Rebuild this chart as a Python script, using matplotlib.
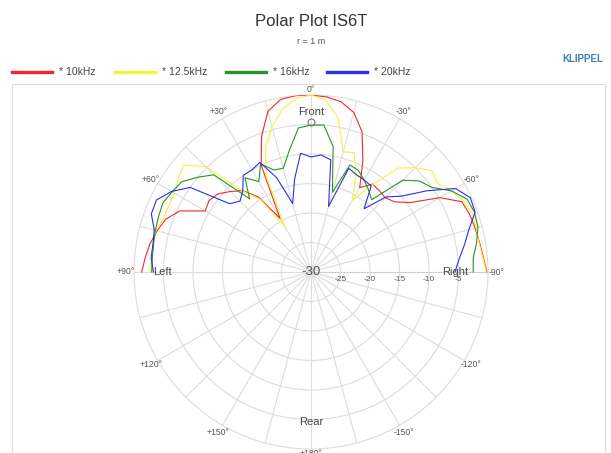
import numpy as np
import matplotlib.pyplot as plt
from matplotlib.lines import Line2D
from matplotlib.patches import Rectangle
import matplotlib.transforms as mtransforms

plt.rcParams['font.family'] = ['Liberation Sans', 'DejaVu Sans']

# =============================================================================
# DATA (dB relative, angle in degrees, + = left)
# =============================================================================

angles = list(range(-90, 95, 5))

spl_10k = [-0.2, -0.7, -1.0, -1.2, -1.4, -1.8, -4.8, -9.5, -11.5, -12.2, -12.0, -11.8, -13.5,
           -9.2, -4.7, -2.0, -0.7, -0.2, 0.0, 0.0, -0.3, -1.8, -5.5, -10.0, -19.5, -14.5,
           -12.0, -10.7, -9.4, -8.9, -9.3, -5.5, -3.8, -3.0, -2.3, -1.8, -1.3]
spl_12k5 = [-0.3, -0.8, -1.1, -1.0, -0.9, -1.5, -2.5, -3.8, -3.3, -5.0, -7.0, -12.0, -16.0,
            -12.0, -8.5, -8.9, -3.5, -0.8, 0.0, -0.5, -2.0, -4.5, -7.5, -12.0, -21.0, -15.0,
            -12.2, -4.7, -1.8, -2.5, -3.3, -3.4, -3.4, -2.8, -2.8, -2.9, -2.7]
spl_16k = [-2.5, -2.4, -1.5, -0.7, -0.5, -0.8, -2.5, -5.0, -6.0, -8.0, -14.0, -13.0, -12.0,
           -11.0, -10.7, -16.0, -8.4, -5.0, -5.1, -5.5, -9.0, -11.8, -11.6, -9.8, -12.3, -10.5,
           -13.8, -6.7, -5.0, -3.3, -2.8, -2.3, -2.5, -2.7, -2.9, -3.0, -3.0]
spl_20k = [-5.6, -4.8, -3.6, -2.3, -0.4, -0.2, -1.7, -6.0, -10.0, -12.0, -16.0, -12.2, -12.0,
           -11.8, -11.3, -18.5, -10.7, -10.1, -10.5, -9.8, -14.0, -18.0, -13.0, -9.5, -10.0,
           -10.0, -12.0, -13.0, -12.0, -5.0, -2.7, -1.1, -1.2, -2.5, -2.8, -2.8, -3.3]

series = [
    ("* 10kHz",   spl_10k,  "#f02a2a"),
    ("* 12.5kHz", spl_12k5, "#f4f23e"),
    ("* 16kHz",   spl_16k,  "#2a922a"),
    ("* 20kHz",   spl_20k,  "#2e2ee6"),
]

r_ticks = [-25, -20, -15, -10, -5]
theta_labels = ["0°", "+30°", "+60°", "+90°", "+120°", "+150°", "+180°",
                "-150°", "-120°", "-90°", "-60°", "-30°"]

# =============================================================================
# FIGURE
# =============================================================================

W, H = 611, 453
fig = plt.figure(figsize=(W / 100, H / 100), dpi=100)

fig.text(0.509, 1 - 22 / H, "Polar Plot IS6T", ha="center", va="center",
         fontsize=12, color="#333333")
fig.text(0.509, 1 - 42 / H, "r = 1 m", ha="center", va="center",
         fontsize=6.5, color="#555555")
fig.text(583 / W, 1 - 59 / H, "KLIPPEL", ha="center", va="center",
         fontsize=7, color="#3f7fb5", fontweight="bold")

# plot frame
fig.add_artist(Rectangle((12 / W, -0.1), 593 / W, 0.1 + (453 - 84) / H,
                         transform=fig.transFigure, fill=False,
                         ec="#dddddd", lw=0.8))

# legend row
leg_x = [12, 115, 226, 327]
for (lab, _, col), x0 in zip(series, leg_x):
    fig.add_artist(Line2D([x0 / W, (x0 + 40) / W], [1 - 72 / H] * 2,
                          color=col, lw=2.4, transform=fig.transFigure))
    fig.text((x0 + 47) / W, 1 - 72 / H, lab, ha="left", va="center",
             fontsize=7.5, color="#444444")

cx, cy, R = 311, 272, 177
ax = fig.add_axes([(cx - R) / W, (H - cy - R) / H, 2 * R / W, 2 * R / H],
                  projection="polar")
ax.set_theta_zero_location("N")
ax.set_theta_direction(1)
ax.set_ylim(-30, 0)
ax.set_thetagrids(range(0, 360, 15), [""] * 24)
ax.set_rgrids(r_ticks, [""] * len(r_ticks))
ax.grid(color="#dcdcdc", lw=0.8)
ax.spines["polar"].set_color("#dcdcdc")
ax.spines["polar"].set_linewidth(0.8)
ax.tick_params(length=0)
ax.patch.set_alpha(0)

th = np.radians(angles)
for lab, vals, col in series:
    ax.plot(th, vals, color=col, lw=0.8, zorder=3)

# radial axis dotted
ax.plot([np.radians(-90)] * 2, [-30, 0], color="#bbbbbb", lw=0.8, ls=":", zorder=2)
off = mtransforms.offset_copy(ax.transData, fig=fig, x=0, y=-4, units="dots")
for r in r_ticks:
    ax.text(np.radians(-90), r, str(r), transform=off, ha="center", va="top",
            fontsize=6, color="#555555")

ax.text(0, -30, "-30", ha="center", va="center", fontsize=9.5, color="#555555", zorder=4)

for i, lab in enumerate(theta_labels):
    r_lab = 1.4
    if i == 0:
        r_lab = 1.0
    elif i == 6:
        r_lab = 0.7
    ax.text(np.radians(30 * i), r_lab, lab, ha="center", va="center",
            fontsize=6.2, color="#555555", clip_on=False)

ax.text(0, -2.9, "Front", ha="center", va="center", fontsize=8, color="#444444")
ax.plot([0], [-4.6], marker="o", ms=5, mfc="none", mec="#777777", mew=0.8, zorder=4)
ax.text(np.pi, -4.6, "Rear", ha="center", va="center", fontsize=8, color="#444444")
ax.text(np.radians(90), -4.8, "Left", ha="center", va="center", fontsize=8, color="#444444")
ax.text(np.radians(-90), -5.6, "Right", ha="center", va="center", fontsize=8, color="#444444")

fig.savefig("out.png", dpi=100)
